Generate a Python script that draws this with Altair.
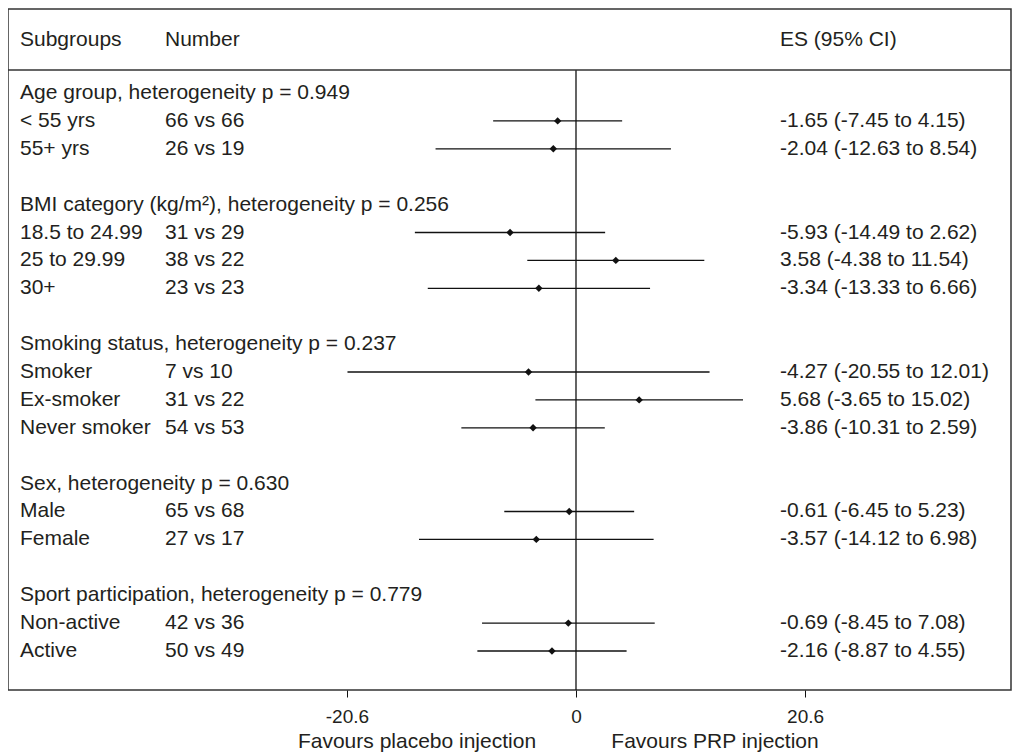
import altair as alt
import pandas as pd

# ---- data ----
rows = [0, 1, 2, 4, 5, 6, 7, 9, 10, 11, 12, 14, 15, 16, 18, 19, 20]
labels = [
    "Age group, heterogeneity p = 0.949", "< 55 yrs", "55+ yrs",
    "BMI category (kg/m²), heterogeneity p = 0.256", "18.5 to 24.99", "25 to 29.99", "30+",
    "Smoking status, heterogeneity p = 0.237", "Smoker", "Ex-smoker", "Never smoker",
    "Sex, heterogeneity p = 0.630", "Male", "Female",
    "Sport participation, heterogeneity p = 0.779", "Non-active", "Active",
]
numbers = ["", "66 vs 66", "26 vs 19",
           "", "31 vs 29", "38 vs 22", "23 vs 23",
           "", "7 vs 10", "31 vs 22", "54 vs 53",
           "", "65 vs 68", "27 vs 17",
           "", "42 vs 36", "50 vs 49"]
es = [None, -1.65, -2.04, None, -5.93, 3.58, -3.34, None, -4.27, 5.68, -3.86,
      None, -0.61, -3.57, None, -0.69, -2.16]
lo = [None, -7.45, -12.63, None, -14.49, -4.38, -13.33, None, -20.55, -3.65, -10.31,
      None, -6.45, -14.12, None, -8.45, -8.87]
hi = [None, 4.15, 8.54, None, 2.62, 11.54, 6.66, None, 12.01, 15.02, 2.59,
      None, 5.23, 6.98, None, 7.08, 4.55]
es_text = ["", "-1.65 (-7.45 to 4.15)", "-2.04 (-12.63 to 8.54)",
           "", "-5.93 (-14.49 to 2.62)", "3.58 (-4.38 to 11.54)", "-3.34 (-13.33 to 6.66)",
           "", "-4.27 (-20.55 to 12.01)", "5.68 (-3.65 to 15.02)", "-3.86 (-10.31 to 2.59)",
           "", "-0.61 (-6.45 to 5.23)", "-3.57 (-14.12 to 6.98)",
           "", "-0.69 (-8.45 to 7.08)", "-2.16 (-8.87 to 4.55)"]
column_headers = ["Subgroups", "Number", "ES (95% CI)"]
captions_txt = ["Favours placebo injection", "Favours PRP injection"]
tick_values = [-20.6, 0, 20.6]

df = pd.DataFrame({"row": rows, "label": labels, "number": numbers, "es_text": es_text})
pts = pd.DataFrame({"row": rows, "es": es, "lo": lo, "hi": hi}).dropna()

W, H = 1003, 681
FONT = "Liberation Sans"
FS = 21
TXT = "#231f20"
INK = "#111111"

xs = alt.Scale(domain=[-51.08, 39.12], nice=False, zero=False)
ys = alt.Scale(domain=[-3.011, 21.398], nice=False, zero=False, reverse=True)

x_axis = alt.Axis(values=tick_values, domain=False, grid=False, ticks=True,
                  tickSize=7, tickColor=INK,
                  labelFont=FONT, labelFontSize=19,
                  labelColor=TXT, labelPadding=10, title=None, format=".3~r",
                  labelExpr="replace(datum.label, '\u2212', '-')")

ci = alt.Chart(pts).mark_rule(color=INK, strokeWidth=1.3).encode(
    x=alt.X("lo:Q", scale=xs, axis=x_axis), x2="hi:Q",
    y=alt.Y("row:Q", scale=ys, axis=None))
dots = alt.Chart(pts).mark_point(shape="diamond", filled=True, color=INK, size=55, opacity=1).encode(
    x=alt.X("es:Q", scale=xs, axis=x_axis), y=alt.Y("row:Q", scale=ys, axis=None))

zero = alt.Chart(pd.DataFrame({"z": [0]})).mark_rule(color=INK, strokeWidth=1.3).encode(
    x=alt.X("z:Q", scale=xs, axis=x_axis), y=alt.value(61), y2=alt.value(H))
sep = alt.Chart(pd.DataFrame({"z": [0]})).mark_rule(color="#333", strokeWidth=1.5).encode(
    x=alt.value(0), x2=alt.value(W), y=alt.value(61))


def col_text(field, px):
    return alt.Chart(df).mark_text(align="left", baseline="middle", font=FONT,
                                   fontSize=FS, color=TXT).encode(
        x=alt.value(px), y=alt.Y("row:Q", scale=ys, axis=None), text=f"{field}:N")


def fixed_text(t, px, py, align="left", font=FONT, fs=FS):
    return alt.Chart(pd.DataFrame({"t": [t]})).mark_text(
        align=align, baseline="middle", font=font, fontSize=fs, color=TXT).encode(
        x=alt.value(px), y=alt.value(py), text="t:N")


layers = [ci, dots, zero, sep,
          col_text("label", 12), col_text("number", 157), col_text("es_text", 772),
          fixed_text(column_headers[0], 12, 31),
          fixed_text(column_headers[1], 157, 31),
          fixed_text(column_headers[2], 772, 31),
          fixed_text(captions_txt[0], 409, 733, "center"),
          fixed_text(captions_txt[1], 707, 733, "center")]

chart = alt.layer(*layers).properties(
    width=W, height=H,
    autosize=alt.AutoSizeParams(type="none"),
    padding={"left": 0, "top": 1, "right": 2, "bottom": 64},
).configure_view(stroke="#333", strokeWidth=1.5)

chart.save("out.html", embed_options={"renderer": "svg", "actions": False})
